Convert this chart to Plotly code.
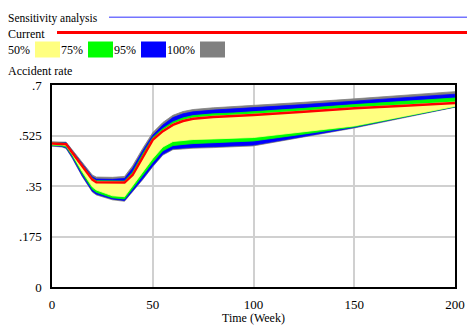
import plotly.graph_objects as go

# ---- data ----
time_week = [0, 5, 7, 10, 15, 20, 22, 30, 36, 40, 45, 50, 55, 60, 65, 70, 80, 90, 100, 125, 150, 175, 200]

current = [0.497, 0.497, 0.495, 0.466, 0.418, 0.372, 0.363, 0.361, 0.362, 0.388, 0.450, 0.510, 0.540, 0.562,
           0.575, 0.583, 0.589, 0.592, 0.596, 0.607, 0.619, 0.628, 0.638]

p100_upper = [0.503, 0.503, 0.502, 0.476, 0.432, 0.388, 0.381, 0.380, 0.383, 0.420, 0.480, 0.535, 0.570, 0.595,
              0.608, 0.615, 0.621, 0.625, 0.628, 0.640, 0.652, 0.664, 0.677]
p95_upper = [0.501, 0.501, 0.500, 0.472, 0.427, 0.382, 0.374, 0.373, 0.376, 0.411, 0.471, 0.526, 0.561, 0.587,
             0.600, 0.607, 0.613, 0.617, 0.621, 0.632, 0.644, 0.656, 0.668]
p75_upper = [0.500, 0.500, 0.498, 0.470, 0.423, 0.377, 0.368, 0.366, 0.367, 0.398, 0.461, 0.518, 0.549, 0.572,
             0.586, 0.594, 0.600, 0.603, 0.607, 0.619, 0.632, 0.643, 0.655]
p50_upper = [0.499, 0.499, 0.497, 0.468, 0.420, 0.374, 0.365, 0.363, 0.364, 0.392, 0.455, 0.513, 0.543, 0.565,
             0.578, 0.586, 0.592, 0.595, 0.599, 0.610, 0.622, 0.631, 0.641]

p100_lower = [0.488, 0.485, 0.480, 0.447, 0.383, 0.329, 0.319, 0.302, 0.297, 0.330, 0.372, 0.417, 0.457, 0.476,
              0.479, 0.481, 0.483, 0.486, 0.489, 0.520, 0.551, 0.587, 0.623]
p95_lower = [0.490, 0.487, 0.482, 0.450, 0.386, 0.332, 0.322, 0.305, 0.300, 0.333, 0.375, 0.420, 0.460, 0.479,
             0.482, 0.484, 0.486, 0.489, 0.492, 0.522, 0.553, 0.589, 0.624]
p75_lower = [0.491, 0.489, 0.485, 0.455, 0.393, 0.339, 0.328, 0.309, 0.305, 0.342, 0.386, 0.432, 0.472, 0.490,
             0.494, 0.497, 0.500, 0.503, 0.506, 0.530, 0.555, 0.590, 0.625]
p50_lower = [0.493, 0.492, 0.489, 0.460, 0.400, 0.347, 0.336, 0.316, 0.313, 0.352, 0.398, 0.445, 0.485, 0.504,
             0.508, 0.511, 0.513, 0.515, 0.518, 0.538, 0.558, 0.592, 0.626]

y_ticks = [0, 0.175, 0.35, 0.525, 0.7]
y_tick_labels = ["0", ".175", ".35", ".525", ".7"]
x_ticks = [0, 50, 100, 150, 200]
x_tick_labels = ["0", "50", "100", "150", "200"]

band_names = ["50%", "75%", "95%", "100%"]
band_colors = ["#ffff80", "#00ff00", "#0000ff", "#808080"]

FONT = "Liberation Serif, Times New Roman, serif"
W, H = 467, 325
ML, MR, MT, MB = 52, 12, 85, 38

fig = go.Figure()

bands = [
    (p100_lower, p100_upper, band_colors[3]),
    (p95_lower, p95_upper, band_colors[2]),
    (p75_lower, p75_upper, band_colors[1]),
    (p50_lower, p50_upper, band_colors[0]),
]
for lo, up, col in bands:
    fig.add_trace(go.Scatter(x=time_week, y=lo, mode="lines", line=dict(color=col, width=0.8),
                             showlegend=False, hoverinfo="skip"))
    fig.add_trace(go.Scatter(x=time_week, y=up, mode="lines", line=dict(color=col, width=0.8),
                             fill="tonexty", fillcolor=col, showlegend=False, hoverinfo="skip"))

fig.add_trace(go.Scatter(x=time_week, y=current, mode="lines", line=dict(color="#ff0000", width=2.5),
                         showlegend=False, hoverinfo="skip"))

pw, ph = W - ML - MR, H - MT - MB


def px(xp):
    return (xp - ML) / pw


def py(yp):
    return (H - MB - yp) / ph


shapes = []
annotations = []


def text(x, y, s, size=12):
    annotations.append(dict(x=px(x), y=py(y), xref="paper", yref="paper", text=s, showarrow=False,
                            xanchor="left", yanchor="middle",
                            font=dict(family=FONT, size=size, color="black")))


text(6, 18.5, "Sensitivity analysis", 11.5)
shapes.append(dict(type="line", xref="paper", yref="paper", x0=px(109), x1=px(470), y0=py(17.3), y1=py(17.3),
                   line=dict(color="#7474ff", width=1.4)))
text(6, 34, "Current")
shapes.append(dict(type="line", xref="paper", yref="paper", x0=px(57), x1=px(470), y0=py(32.5), y1=py(32.5),
                   line=dict(color="#ff0000", width=3)))

label_x = [6, 59, 112, 165]
box_x = [35, 88, 141, 200]
for name, col, lx, bx in zip(band_names, band_colors, label_x, box_x):
    text(lx, 50, name)
    shapes.append(dict(type="rect", xref="paper", yref="paper", x0=px(bx), x1=px(bx + 25), y0=py(57.5),
                       y1=py(41.5), fillcolor=col, line=dict(width=0)))

text(6, 71, "Accident rate")

fig.update_layout(
    width=W, height=H,
    margin=dict(l=ML, r=MR, t=MT, b=MB, pad=0),
    paper_bgcolor="white", plot_bgcolor="white",
    font=dict(family=FONT, size=13, color="black"),
    shapes=shapes, annotations=annotations,
    showlegend=False,
    xaxis=dict(range=[0, 200], tickvals=x_ticks, ticktext=x_tick_labels, showgrid=True, gridcolor="#d0d0d0",
               gridwidth=1.5, showline=True, linecolor="black", linewidth=1.5, mirror=True, zeroline=False,
               ticks="outside", ticklen=5, tickcolor="rgba(0,0,0,0)", tickfont=dict(family=FONT, size=13),
               automargin=False,
               title=dict(text="Time (Week)", font=dict(family=FONT, size=12), standoff=0)),
    yaxis=dict(range=[0, 0.7], tickvals=y_ticks, ticktext=y_tick_labels, showgrid=True, gridcolor="#d0d0d0",
               gridwidth=1.5, showline=True, linecolor="black", linewidth=1.5, mirror=True, zeroline=False,
               ticks="outside", ticklen=6, tickcolor="rgba(0,0,0,0)", tickfont=dict(family=FONT, size=13),
               automargin=False),
)

fig.write_html("out.html", config={"displayModeBar": False},
               post_script="document.body.style.margin='0';document.body.style.overflow='hidden';")
